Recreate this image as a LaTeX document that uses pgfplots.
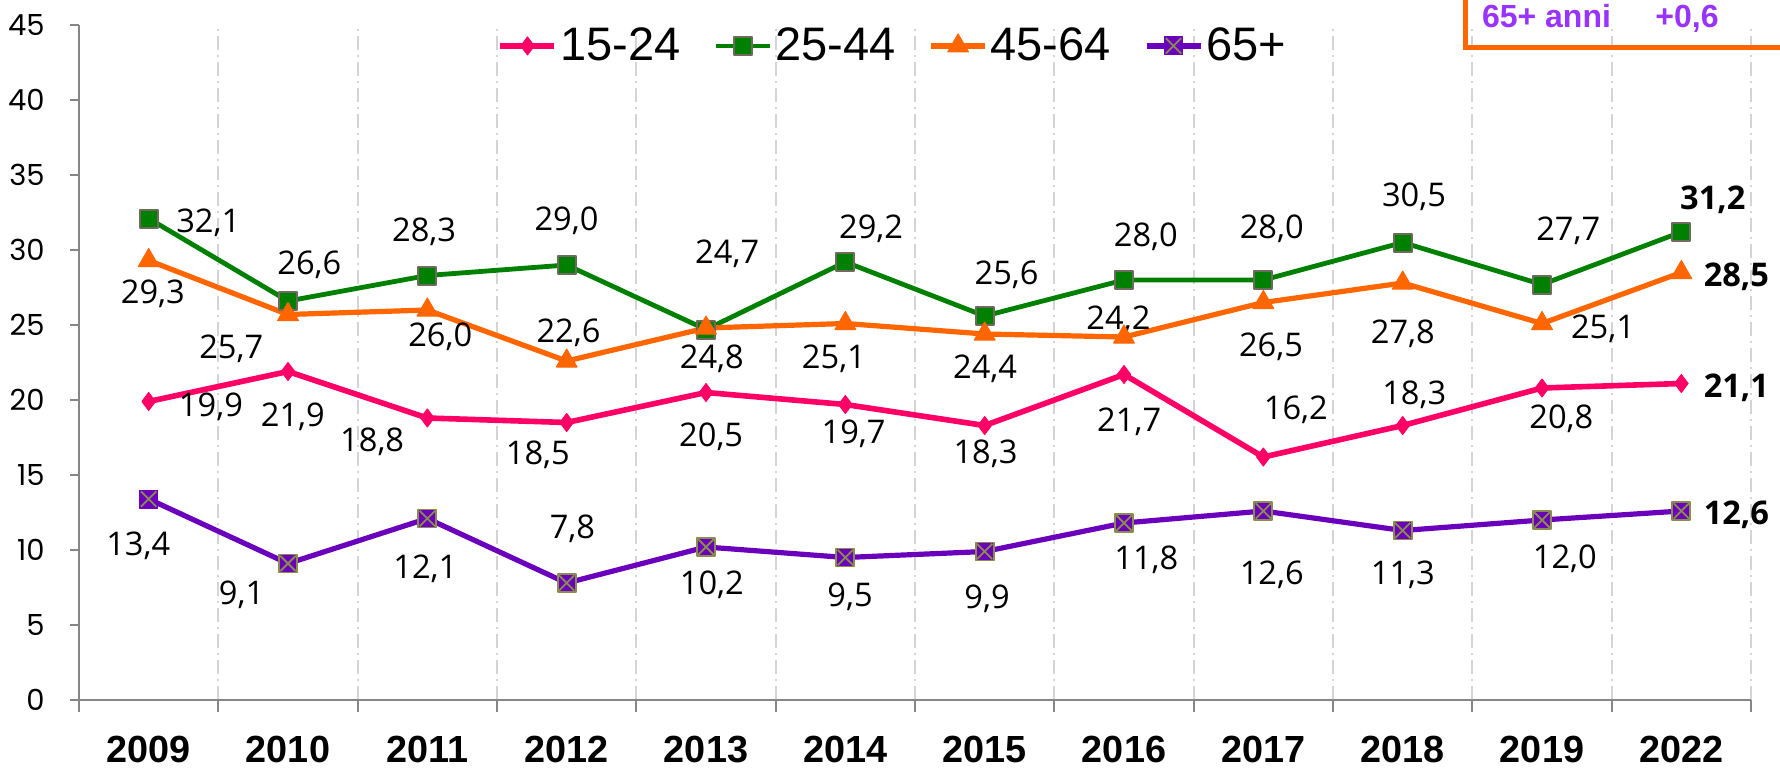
\documentclass[border=0pt]{standalone}
\usepackage{fontspec}
\setmainfont{Open Sans}
\newfontfamily\poppins{Poppins}
\newfontfamily\arial{Liberation Sans}
\usepackage{pgfplots}
\pgfplotsset{compat=1.18}
\definecolor{cpink}{HTML}{FF0066}
\definecolor{cgreen}{HTML}{008000}
\definecolor{corange}{HTML}{FF6600}
\definecolor{cpurple}{HTML}{6A00BB}
\definecolor{mgray}{HTML}{6E6A5E}
\definecolor{xolive}{HTML}{8C8C50}
\definecolor{boxpurple}{HTML}{9933FF}
\definecolor{gridc}{HTML}{D4D4D4}
\definecolor{axc}{HTML}{868686}
\pgfdeclareplotmark{sqx}{%
  \pgfpathrectangle{\pgfqpoint{-\pgfplotmarksize}{-\pgfplotmarksize}}{\pgfqpoint{2\pgfplotmarksize}{2\pgfplotmarksize}}%
  \pgfusepathqfillstroke
  \pgfsetstrokecolor{xolive}%
  \pgfsetlinewidth{0.9pt}%
  \pgfpathmoveto{\pgfqpoint{-0.85\pgfplotmarksize}{-0.85\pgfplotmarksize}}%
  \pgfpathlineto{\pgfqpoint{0.85\pgfplotmarksize}{0.85\pgfplotmarksize}}%
  \pgfpathmoveto{\pgfqpoint{-0.85\pgfplotmarksize}{0.85\pgfplotmarksize}}%
  \pgfpathlineto{\pgfqpoint{0.85\pgfplotmarksize}{-0.85\pgfplotmarksize}}%
  \pgfusepathqstroke
}
\tikzset{
  dl/.style={font=\fontsize{16.3pt}{19pt}\selectfont, inner sep=0pt, text height=11.5pt, text depth=0pt, anchor=center},
  dlb/.style={font=\bfseries\fontsize{16.3pt}{19pt}\selectfont, inner sep=0pt, text height=11.5pt, text depth=0pt, anchor=center},
}
\begin{document}
\begin{tikzpicture}
\path[use as bounding box] (0,0) rectangle (890pt,383.5pt);
\begin{axis}[
  at={(39.5pt,33.5pt)}, anchor=south west,
  scale only axis, width=836pt, height=337.5pt,
  xmin=-0.5, xmax=11.5, ymin=0, ymax=45,
  clip=false,
  axis x line*=bottom, axis y line*=left,
  axis line style={draw=axc, line width=1pt},
  xtick={0,...,11},
  xticklabels={2009,2010,2011,2012,2013,2014,2015,2016,2017,2018,2019,2022},
  xtick pos=bottom, ytick pos=left,
  tick align=outside,
  major tick length=4.5pt, minor tick length=6pt,
  minor xtick={-0.5,0.5,...,11.5},
  xminorgrids=true,
  minor x grid style={draw=gridc, line width=1pt, dash pattern=on 7pt off 2.5pt on 1pt off 2.5pt},
  major x tick style={draw=none},
  minor x tick style={draw=axc, line width=1pt},
  ytick={0,5,...,45},
  y tick style={draw=axc, line width=1pt},
  /pgf/number format/assume math mode=true,
  yticklabel style={font=\poppins\fontsize{14.5pt}{16pt}\selectfont, anchor=east, inner sep=0pt, text height=10.2pt, text depth=0pt, xshift=-12.5pt},
  xticklabel style={font=\arial\bfseries\fontsize{18.9pt}{21pt}\selectfont, anchor=center, inner sep=0pt, text height=13.5pt, text depth=0pt, yshift=-20pt},
  legend style={at={(0.487,0.969)}, anchor=center, draw=none, fill=none, legend columns=4,
    font=\arial\fontsize{23.5pt}{26pt}\selectfont,
    nodes={inner xsep=1.5pt, inner ysep=1pt},
    /tikz/every odd column/.append style={column sep=0pt},
    /tikz/every even column/.append style={column sep=15pt}},
  legend image code/.code={\draw[mark repeat=2,mark phase=2,#1] plot coordinates {(0pt,0pt) (13.5pt,0pt) (27pt,0pt)};},
]
\addplot[cpink, line width=2.8pt, line join=round, mark=diamond*, mark size=4.5pt, mark options={solid, fill=cpink, draw=cpink, line width=0.5pt}] coordinates {
(0,19.9) (1,21.9) (2,18.8) (3,18.5) (4,20.5) (5,19.7) (6,18.3) (7,21.7) (8,16.2) (9,18.3) (10,20.8) (11,21.1)};
\addlegendentry{15-24}
\addplot[cgreen, line width=2.4pt, line join=round, mark=square*, mark size=4.5pt, mark options={solid, fill=cgreen, draw=mgray, line width=1pt}] coordinates {
(0,32.1) (1,26.6) (2,28.3) (3,29.0) (4,24.7) (5,29.2) (6,25.6) (7,28.0) (8,28.0) (9,30.5) (10,27.7) (11,31.2)};
\addlegendentry{25-44}
\addplot[corange, line width=2.6pt, line join=round, mark=triangle*, mark size=6pt, mark options={solid, fill=corange, draw=corange, line width=0.5pt}] coordinates {
(0,29.3) (1,25.7) (2,26.0) (3,22.6) (4,24.8) (5,25.1) (6,24.4) (7,24.2) (8,26.5) (9,27.8) (10,25.1) (11,28.5)};
\addlegendentry{45-64}
\addplot[cpurple, line width=2.6pt, line join=round, mark=sqx, mark size=4.5pt, mark options={solid, fill=cpurple, draw=cpurple, line width=0.5pt}] coordinates {
(0,13.4) (1,9.1) (2,12.1) (3,7.8) (4,10.2) (5,9.5) (6,9.9) (7,11.8) (8,12.6) (9,11.3) (10,12.0) (11,12.6)};
\addlegendentry{65+}
% 15-24 labels
\node[dl] at (axis cs:0.447,19.67) {19,9};
\node[dl] at (axis cs:1.035,19.0) {21,9};
\node[dl] at (axis cs:1.604,17.33) {18,8};
\node[dl] at (axis cs:2.793,16.44) {18,5};
\node[dl] at (axis cs:4.037,17.67) {20,5};
\node[dl] at (axis cs:5.059,17.89) {19,7};
\node[dl] at (axis cs:6.006,16.53) {18,3};
\node[dl] at (axis cs:7.037,18.67) {21,7};
\node[dl] at (axis cs:8.233,19.44) {16,2};
\node[dl] at (axis cs:9.083,20.44) {18,3};
\node[dl] at (axis cs:10.139,18.89) {20,8};
\node[dlb] at (axis cs:11.395,20.96) {21,1};
% 25-44 labels
\node[dl] at (axis cs:0.428,31.95) {32,1};
\node[dl] at (axis cs:1.153,29.11) {26,6};
\node[dl] at (axis cs:1.977,31.31) {28,3};
\node[dl] at (axis cs:2.999,32.04) {29,0};
\node[dl] at (axis cs:4.152,29.89) {24,7};
\node[dl] at (axis cs:5.185,31.53) {29,2};
\node[dl] at (axis cs:6.157,28.44) {25,6};
\node[dl] at (axis cs:7.157,31.0) {28,0};
\node[dl] at (axis cs:8.06,31.51) {28,0};
\node[dl] at (axis cs:9.081,33.69) {30,5};
\node[dl] at (axis cs:10.188,31.42) {27,7};
\node[dlb] at (axis cs:11.226,33.44) {31,2};
% 45-64 labels
\node[dl] at (axis cs:0.03,27.18) {29,3};
\node[dl] at (axis cs:0.593,23.55) {25,7};
\node[dl] at (axis cs:2.093,24.35) {26,0};
\node[dl] at (axis cs:3.013,24.58) {22,6};
\node[dl] at (axis cs:4.042,22.89) {24,8};
\node[dl] at (axis cs:4.918,22.85) {25,1};
\node[dl] at (axis cs:6.003,22.18) {24,4};
\node[dl] at (axis cs:6.96,25.44) {24,2};
\node[dl] at (axis cs:8.055,23.64) {26,5};
\node[dl] at (axis cs:9.001,24.56) {27,8};
\node[dl] at (axis cs:10.438,24.89) {25,1};
\node[dlb] at (axis cs:11.395,28.33) {28,5};
% 65+ labels
\node[dl] at (axis cs:-0.075,10.42) {13,4};
\node[dl] at (axis cs:0.667,7.11) {9,1};
\node[dl] at (axis cs:1.986,8.89) {12,1};
\node[dl] at (axis cs:3.041,11.55) {7,8};
\node[dl] at (axis cs:4.042,7.78) {10,2};
\node[dl] at (axis cs:5.034,7.0) {9,5};
\node[dl] at (axis cs:6.017,6.84) {9,9};
\node[dl] at (axis cs:7.16,9.44) {11,8};
\node[dl] at (axis cs:8.06,8.44) {12,6};
\node[dl] at (axis cs:9.001,8.49) {11,3};
\node[dl] at (axis cs:10.164,9.53) {12,0};
\node[dlb] at (axis cs:11.395,12.44) {12,6};
\end{axis}
\draw[corange, line width=2.5pt] (732.5pt,400pt) -- (732.5pt,359.5pt) -- (900pt,359.5pt);
\node[text=boxpurple, font=\arial\bfseries\fontsize{16pt}{18pt}\selectfont, inner sep=0pt, text height=11pt, text depth=0pt] at (773.25pt,375pt) {65+ anni};
\node[text=boxpurple, font=\arial\bfseries\fontsize{16pt}{18pt}\selectfont, inner sep=0pt, text height=11pt, text depth=0pt] at (843.5pt,375pt) {+0,6};
\end{tikzpicture}
\end{document}
